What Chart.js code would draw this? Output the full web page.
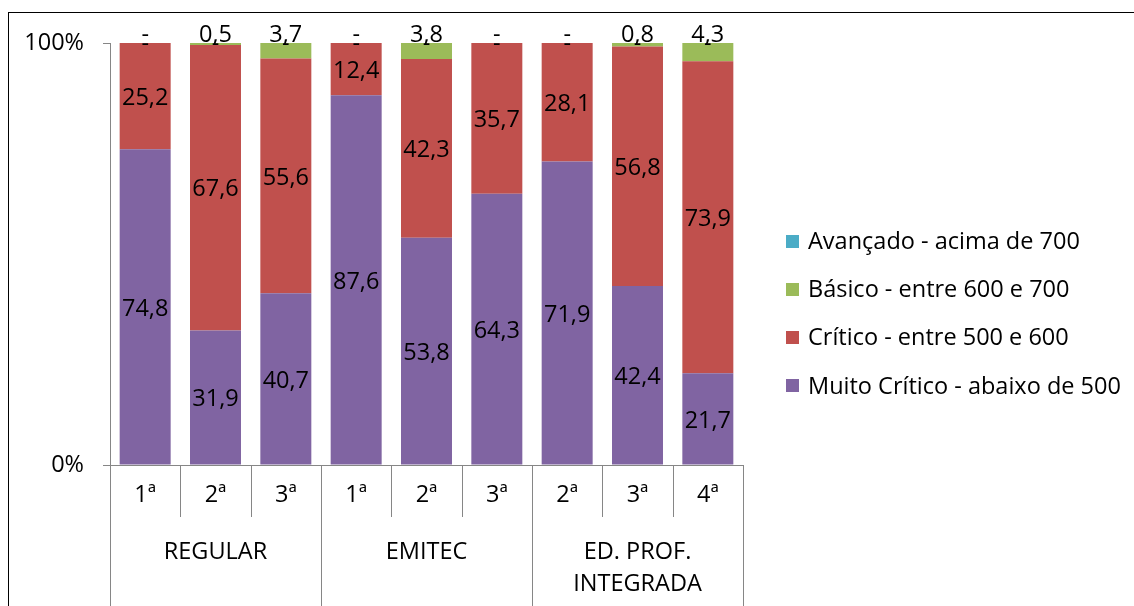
<!DOCTYPE html>
<html>
<head>
<meta charset="utf-8">
<script src="https://cdn.jsdelivr.net/npm/chart.js@4/dist/chart.umd.min.js"></script>
<style>
  html, body { margin: 0; padding: 0; background: #fff; }
  #wrap { position: relative; width: 1134px; height: 606px; overflow: hidden; }
  #frame { position: absolute; left: 8px; top: 12px; right: -10px; bottom: -10px;
           border-top: 1.5px solid #000; border-left: 1.5px solid #000; pointer-events: none; }
  canvas { position: absolute; left: 0; top: 0; }
</style>
</head>
<body>
<div id="wrap">
  <canvas id="chart" width="1134" height="606"></canvas>
  <div id="frame"></div>
</div>
<script>
// Séries (anos) e grupos de ensino
const grades = ['1ª', '2ª', '3ª', '1ª', '2ª', '3ª', '2ª', '3ª', '4ª'];
const groups = [['REGULAR'], ['EMITEC'], ['ED. PROF.', 'INTEGRADA']];
const groupSizes = [3, 3, 3];

// Percentual de estudantes por nível de proficiência
const muitoCritico = [74.8, 31.9, 40.7, 87.6, 53.8, 64.3, 71.9, 42.4, 21.7];
const critico      = [25.2, 67.6, 55.6, 12.4, 42.3, 35.7, 28.1, 56.8, 73.9];
const basico       = [0, 0.5, 3.7, 0, 3.8, 0, 0, 0.8, 4.3];
const avancado     = [0, 0, 0, 0, 0, 0, 0, 0, 0];

const seriesNames = [
  'Muito Crítico - abaixo de 500',
  'Crítico - entre 500 e 600',
  'Básico - entre 600 e 700',
  'Avançado - acima de 700'
];
const seriesColors = ['#8064A2', '#C0504D', '#9BBB59', '#4BACC6'];
const yTicks = [0, 100];

const FONT = '"Open Sans", "Noto Sans", sans-serif';
const FSIZE = 23.5;
const AXIS_GRAY = '#868686';

const raw = [muitoCritico, critico, basico, avancado];
// 100% stacked: each column is scaled to its own total
const totals = grades.map((_, i) => raw.reduce((s, arr) => s + arr[i], 0));
const shares = raw.map(arr => arr.map((v, i) => v / totals[i] * 100));

const fmt = v => v.toFixed(1).replace('.', ',');

const overlay = {
  id: 'overlay',
  afterDraw(chart) {
    const ctx = chart.ctx;
    const xs = chart.scales.x, ys = chart.scales.y;
    const half = (xs.getPixelForValue(1) - xs.getPixelForValue(0)) / 2;
    const base = ys.getPixelForValue(0);
    const top = ys.getPixelForValue(100);

    ctx.save();
    // category separators (short) and group separators (long)
    ctx.strokeStyle = AXIS_GRAY;
    ctx.lineWidth = 1;
    const bounds = new Set([0]);
    let acc = 0;
    groupSizes.forEach(s => { acc += s; bounds.add(acc); });
    for (let i = 0; i <= grades.length; i++) {
      const xb = Math.round(i === 0 ? xs.getPixelForValue(0) - half : xs.getPixelForValue(i - 1) + half) + 0.5;
      ctx.beginPath();
      ctx.moveTo(xb, base);
      ctx.lineTo(xb, bounds.has(i) ? chart.height : base + 52);
      ctx.stroke();
    }

    // group labels
    ctx.fillStyle = '#000';
    ctx.font = FSIZE + 'px ' + FONT;
    ctx.textAlign = 'center';
    ctx.textBaseline = 'middle';
    let start = 0;
    groups.forEach((lines, g) => {
      const a = xs.getPixelForValue(start);
      const b = xs.getPixelForValue(start + groupSizes[g] - 1);
      lines.forEach((t, k) => ctx.fillText(t, (a + b) / 2, base + 87 + k * 32));
      start += groupSizes[g];
    });

    // value labels
    [0, 1].forEach(d => {
      chart.getDatasetMeta(d).data.forEach((el, i) => {
        const v = raw[d][i];
        if (v > 0) ctx.fillText(fmt(v), el.x, (el.y + el.base) / 2 + 2);
      });
    });
    chart.getDatasetMeta(2).data.forEach((el, i) => {
      const v = raw[2][i];
      ctx.fillText(v > 0 ? fmt(v) : '-', el.x, top - 8);
    });
    chart.getDatasetMeta(3).data.forEach((el, i) => {
      const v = raw[3][i];
      ctx.fillText(v > 0 ? fmt(v) : '-', el.x, top + 1);
    });

    // legend (top-down: highest level first)
    const lx = chart.chartArea.right + 43;
    const ly0 = 241, step = 48.3;
    ctx.textAlign = 'left';
    for (let k = 0; k < 4; k++) {
      const d = 3 - k;
      const cy = ly0 + k * step;
      ctx.fillStyle = seriesColors[d];
      ctx.fillRect(lx, Math.round(cy - 6.5), 13, 13);
      ctx.fillStyle = '#000';
      ctx.fillText(seriesNames[d], lx + 22, cy + 1);
    }
    ctx.restore();
  }
};

new Chart(document.getElementById('chart'), {
  type: 'bar',
  data: {
    labels: grades,
    datasets: seriesNames.map((name, d) => ({
      label: name,
      data: shares[d],
      backgroundColor: seriesColors[d],
      borderWidth: 0,
      barPercentage: 0.725,
      categoryPercentage: 1.0
    }))
  },
  options: {
    responsive: false,
    animation: false,
    layout: { padding: { left: 0, top: 43, right: 391, bottom: 0 } },
    plugins: { legend: { display: false }, tooltip: { enabled: false } },
    scales: {
      x: {
        stacked: true,
        grid: { display: false, drawTicks: false },
        border: { display: true, color: AXIS_GRAY, width: 1 },
        ticks: { color: '#000', font: { family: FONT, size: FSIZE }, padding: 16, maxRotation: 0, autoSkip: false },
        afterFit: s => { s.height = 141; }
      },
      y: {
        stacked: true,
        min: 0,
        max: 100,
        afterBuildTicks: s => { s.ticks = yTicks.map(v => ({ value: v })); },
        grid: { display: true, drawOnChartArea: false, drawTicks: true, tickLength: 7, color: AXIS_GRAY },
        border: { display: true, color: AXIS_GRAY, width: 1 },
        ticks: { color: '#000', font: { family: FONT, size: FSIZE }, padding: 19, callback: v => v + '%' },
        afterFit: s => { s.width = 110; }
      }
    }
  },
  plugins: [overlay]
});
</script>
</body>
</html>
